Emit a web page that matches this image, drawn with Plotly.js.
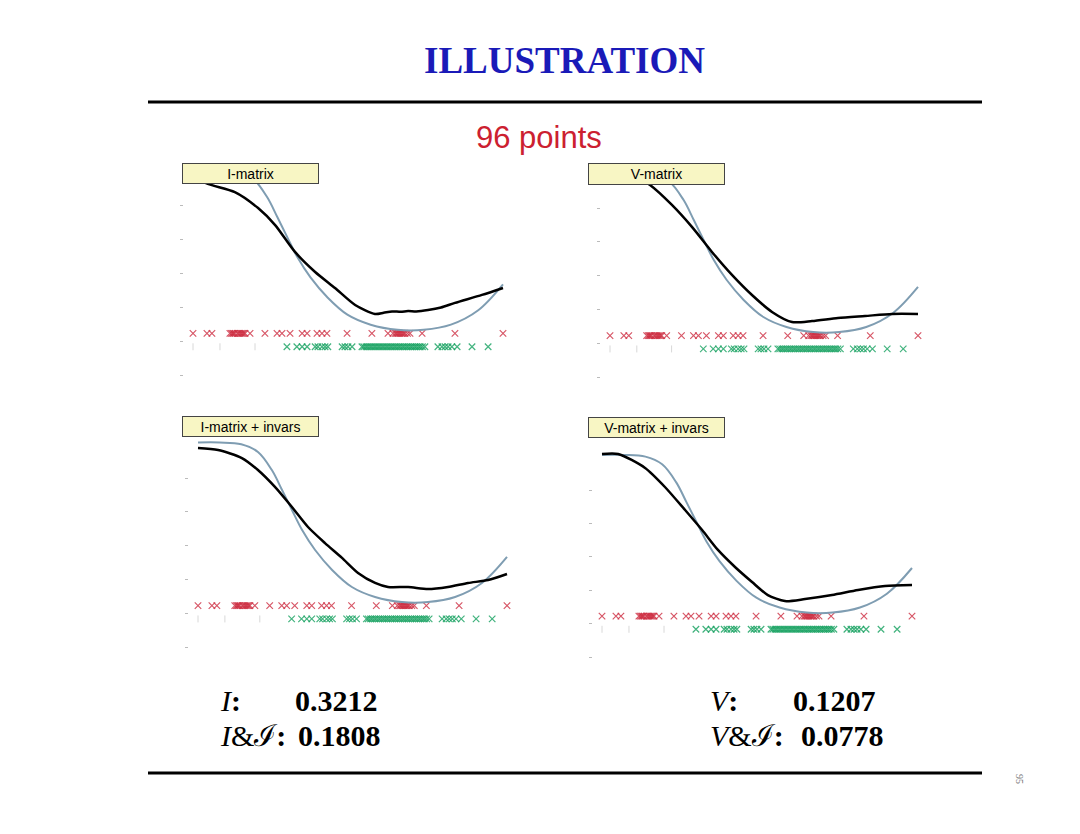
<!DOCTYPE html>
<html>
<head>
<meta charset="utf-8">
<script src="https://cdn.plot.ly/plotly-3.0.1.min.js"></script>
<style>html,body{margin:0;padding:0;background:#fff;}#chart{width:1080px;height:834px;}</style>
</head>
<body>
<div id="chart"></div>
<script>
// ---- data (normalised position t along x, value v on y) ----
const panelNames = ["I-matrix", "V-matrix", "I-matrix + invars", "V-matrix + invars"];

// true function (same in all panels)
const trueT = [0, 0.07, 0.14, 0.194, 0.239, 0.272, 0.304, 0.337, 0.379, 0.434, 0.498, 0.573, 0.66, 0.744, 0.832, 0.919, 1.0];
const trueV = [1.21, 1.21, 1.20, 1.154, 1.047, 0.929, 0.811, 0.692, 0.574, 0.456, 0.355, 0.296, 0.266, 0.266, 0.296, 0.379, 0.533];

// estimates
const estT_I  = [0, 0.048, 0.135, 0.21, 0.265, 0.329, 0.394, 0.458, 0.523, 0.587, 0.615, 0.642, 0.67, 0.694, 0.72, 0.758, 0.80, 0.845, 0.932, 1.0];
const estV_I  = [1.17, 1.124, 1.076, 0.982, 0.882, 0.724, 0.606, 0.512, 0.412, 0.359, 0.366, 0.374, 0.372, 0.376, 0.374, 0.382, 0.397, 0.424, 0.471, 0.512];
const estT_V  = [0, 0.07, 0.130, 0.201, 0.266, 0.331, 0.396, 0.461, 0.526, 0.591, 0.656, 0.740, 0.828, 0.916, 1.0];
const estV_V  = [1.24, 1.2, 1.136, 1.018, 0.888, 0.740, 0.604, 0.485, 0.385, 0.325, 0.331, 0.349, 0.361, 0.373, 0.373];
const estT_II = [0, 0.065, 0.142, 0.194, 0.249, 0.304, 0.356, 0.411, 0.466, 0.518, 0.573, 0.615, 0.68, 0.744, 0.809, 0.874, 0.939, 1.0];
const estV_II = [1.178, 1.166, 1.118, 1.047, 0.947, 0.828, 0.710, 0.615, 0.527, 0.438, 0.379, 0.355, 0.355, 0.343, 0.355, 0.379, 0.396, 0.432];
const estT_VI = [0, 0.052, 0.139, 0.203, 0.268, 0.323, 0.374, 0.429, 0.484, 0.535, 0.590, 0.655, 0.742, 0.826, 0.913, 1.0];
const estV_VI = [1.216, 1.216, 1.132, 1.018, 0.880, 0.760, 0.641, 0.539, 0.449, 0.371, 0.335, 0.347, 0.371, 0.401, 0.425, 0.431];

// sample points of the two classes
const redT = [0, 0.045, 0.061, 0.119, 0.124, 0.128, 0.131, 0.135, 0.143, 0.147, 0.152, 0.156, 0.160, 0.164, 0.168, 0.184,
  0.232, 0.271, 0.287, 0.313, 0.352, 0.368, 0.400, 0.416, 0.432, 0.497, 0.577, 0.629, 0.645, 0.652, 0.656, 0.660,
  0.664, 0.668, 0.672, 0.676, 0.680, 0.684, 0.692, 0.700, 0.739, 0.845, 1.0];
const greenT = [0.303, 0.335, 0.352, 0.368, 0.394, 0.403, 0.416, 0.426, 0.435, 0.481, 0.490, 0.500, 0.513,
  0.545, 0.551, 0.558, 0.564, 0.571, 0.577, 0.584, 0.590, 0.597, 0.603, 0.610, 0.616, 0.623, 0.629, 0.636, 0.642,
  0.649, 0.655, 0.662, 0.668, 0.675, 0.681, 0.688, 0.694, 0.701, 0.707, 0.714, 0.720, 0.727, 0.733, 0.740, 0.748,
  0.790, 0.803, 0.813, 0.823, 0.835, 0.852, 0.900, 0.952];
const faintT = [0, 0.087, 0.2];
const redLevel = 0.245, greenLevel = 0.166;
const yTicks = [0, 0.2, 0.4, 0.6, 0.8, 1.0];

const scoresLabels = ["<i>I</i><b>:</b>", "<i>I</i>&amp;ℐ<b>:</b>", "<i>V</i><b>:</b>", "<i>V</i>&amp;ℐ<b>:</b>"];
const scoresValues = ["0.3212", "0.1808", "0.1207", "0.0778"];

// ---- layout geometry ----
const W = 1080, H = 834;
const geo = [
  {t0: 193, sx: 310, v0: 375, sy: 170, box: [182, 319, 163, 184]},
  {t0: 610, sx: 308, v0: 377, sy: 169, box: [588, 725, 163, 185]},
  {t0: 198, sx: 309, v0: 647, sy: 169, box: [182, 319, 416, 437]},
  {t0: 602, sx: 310, v0: 657, sy: 167, box: [588, 725, 417, 438]}
];
const XR = [-0.03, 1.03], YR = [-0.07, 1.3];
const ests = [[estT_I, estV_I], [estT_V, estV_V], [estT_II, estV_II], [estT_VI, estV_VI]];

const traces = [];
const layout = {
  width: W, height: H, margin: {l: 0, r: 0, t: 0, b: 0},
  paper_bgcolor: "#ffffff", plot_bgcolor: "#ffffff", showlegend: false,
  annotations: [], shapes: []
};

geo.forEach((g, i) => {
  const k = i === 0 ? "" : String(i + 1);
  const xa = "x" + k, ya = "y" + k;
  const x0 = g.t0 + XR[0] * g.sx, x1 = g.t0 + XR[1] * g.sx;
  const yb = g.v0 - YR[0] * g.sy, yt = g.v0 - YR[1] * g.sy;
  layout["xaxis" + k] = {domain: [x0 / W, x1 / W], range: XR, showgrid: false, zeroline: false,
    showline: false, showticklabels: false, ticks: "", anchor: ya};
  layout["yaxis" + k] = {domain: [1 - yb / H, 1 - yt / H], range: YR, showgrid: false, zeroline: false,
    showline: false, showticklabels: false, ticks: "outside", ticklen: 3, tickwidth: 1, tickcolor: "#bbbbbb",
    tickvals: yTicks, anchor: xa};

  traces.push({type: "scatter", mode: "markers", x: faintT, y: faintT.map(() => greenLevel), xaxis: xa, yaxis: ya,
    marker: {symbol: "line-ns", size: 5, line: {color: "#d8d8d8", width: 1}}, hoverinfo: "skip"});
  traces.push({type: "scatter", mode: "markers", x: redT, y: redT.map(() => redLevel), xaxis: xa, yaxis: ya,
    marker: {symbol: "x-thin", size: 6.5, line: {color: "rgba(205,45,65,0.8)", width: 1.2}}, hoverinfo: "skip"});
  traces.push({type: "scatter", mode: "markers", x: greenT, y: greenT.map(() => greenLevel), xaxis: xa, yaxis: ya,
    marker: {symbol: "x-thin", size: 6.5, line: {color: "rgba(20,160,95,0.8)", width: 1.2}}, hoverinfo: "skip"});
  traces.push({type: "scatter", mode: "lines", x: trueT, y: trueV, xaxis: xa, yaxis: ya,
    line: {color: "#7f9db2", width: 2, shape: "spline", smoothing: 1}, hoverinfo: "skip"});
  traces.push({type: "scatter", mode: "lines", x: ests[i][0], y: ests[i][1], xaxis: xa, yaxis: ya,
    line: {color: "#000000", width: 2.5, shape: "spline", smoothing: 0.7}, hoverinfo: "skip"});

  const b = g.box;
  layout.annotations.push({xref: "paper", yref: "paper", x: (b[0] + b[1]) / 2 / W, y: 1 - (b[2] + b[3]) / 2 / H,
    xanchor: "center", yanchor: "middle", showarrow: false, text: panelNames[i],
    width: b[1] - b[0] - 4, height: b[3] - b[2] - 4, borderpad: 1,
    bgcolor: "#f8f6c4", bordercolor: "#444444", borderwidth: 1,
    font: {family: "Liberation Sans, Arial", size: 14, color: "#000"}});
});

// title, subtitle
layout.annotations.push({xref: "paper", yref: "paper", x: 564 / W, y: 1 - 60 / H, xanchor: "center", yanchor: "middle",
  showarrow: false, text: "<b>ILLUSTRATION</b>", font: {family: "Liberation Serif", size: 37, color: "#1a1ab8"}});
layout.annotations.push({xref: "paper", yref: "paper", x: 539 / W, y: 1 - 138 / H, xanchor: "center", yanchor: "middle",
  showarrow: false, text: "96 points", font: {family: "Liberation Sans, Arial", size: 31, color: "#cc2030"}});

// scores
const labelPos = [[218, 700], [218, 735], [708, 700], [708, 735]];
const valuePos = [[380, 700], [383, 735], [878, 700], [886, 735]];
scoresLabels.forEach((s, i) => {
  layout.annotations.push({xref: "paper", yref: "paper", x: labelPos[i][0] / W, y: 1 - labelPos[i][1] / H,
    xanchor: "left", yanchor: "middle", showarrow: false, text: s,
    font: {family: "Liberation Serif", size: 30, color: "#000"}});
  layout.annotations.push({xref: "paper", yref: "paper", x: valuePos[i][0] / W, y: 1 - valuePos[i][1] / H,
    xanchor: "right", yanchor: "middle", showarrow: false, text: "<b>" + scoresValues[i] + "</b>",
    font: {family: "Liberation Serif", size: 30, color: "#000"}});
});

// page number
layout.annotations.push({xref: "paper", yref: "paper", x: 1020 / W, y: 1 - 779 / H, xanchor: "center", yanchor: "middle",
  showarrow: false, text: "95", textangle: 90, font: {family: "Liberation Serif", size: 10, color: "#777"}});

// rules
[102, 773].forEach(y => {
  layout.shapes.push({type: "line", xref: "paper", yref: "paper", x0: 148 / W, x1: 982 / W, y0: 1 - y / H, y1: 1 - y / H,
    line: {color: "#000", width: 3}});
});

Plotly.newPlot("chart", traces, layout, {staticPlot: true, displayModeBar: false});
</script>
</body>
</html>
